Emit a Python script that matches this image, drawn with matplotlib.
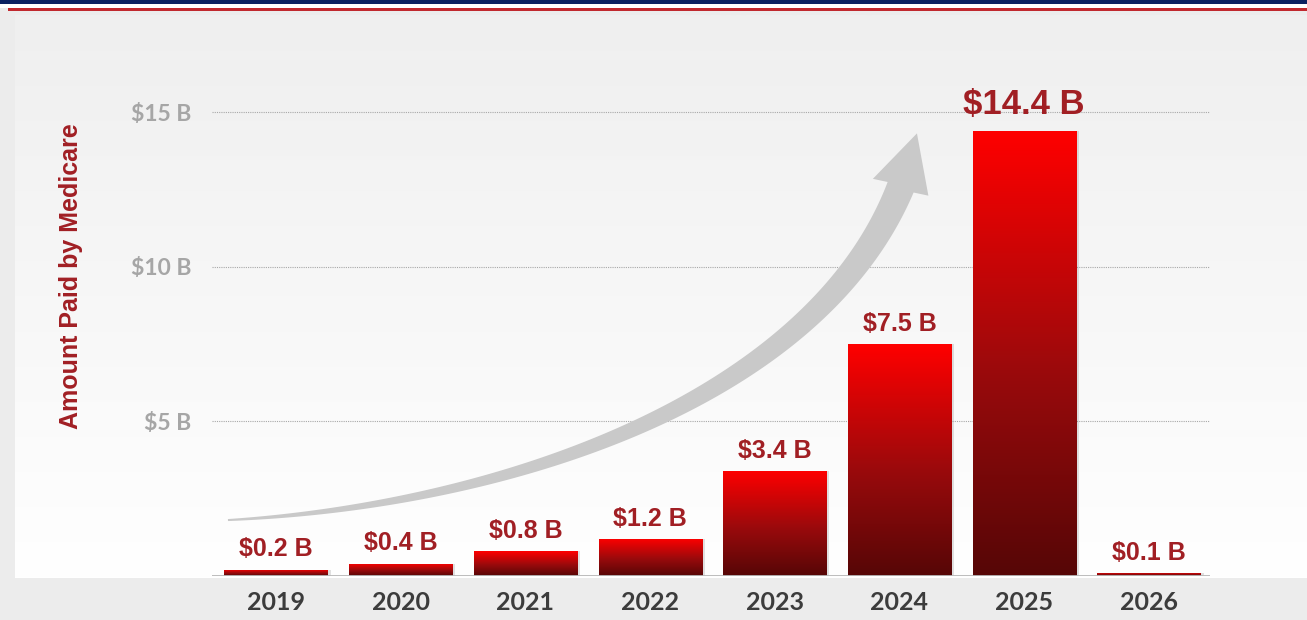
import numpy as np
import matplotlib
matplotlib.use("Agg")
import matplotlib.pyplot as plt
from matplotlib.colors import LinearSegmentedColormap
from matplotlib.patches import Rectangle, Polygon

# ---- data ----
years = ["2019", "2020", "2021", "2022", "2023", "2024", "2025", "2026"]
paid = [0.2, 0.4, 0.8, 1.2, 3.4, 7.5, 14.4, 0.1]  # billions of $
value_labels = ["$0.2 B", "$0.4 B", "$0.8 B", "$1.2 B", "$3.4 B", "$7.5 B", "$14.4 B", "$0.1 B"]
yticks = [5, 10, 15]
ytick_labels = ["$5 B", "$10 B", "$15 B"]

W, H = 1307, 620
RED_TXT = "#a11f24"

fig = plt.figure(figsize=(W / 100, H / 100), dpi=100)
fig.patch.set_facecolor("#ececec")

# panel background (light gray at top fading to white)
bg = fig.add_axes([15 / W, 42 / H, 1 - 15 / W, 563 / H], zorder=-5)
bg_cmap = LinearSegmentedColormap.from_list("bg", ["#efefef", "#ffffff"])
bg.imshow(np.linspace(0, 1, 256).reshape(-1, 1), cmap=bg_cmap, aspect="auto",
          extent=[0, 1, 0, 1], origin="upper")
bg.axis("off")

# top stripes
fig.add_artist(Rectangle((0, 1 - 4 / H), 1, 4 / H, transform=fig.transFigure,
                         color="#0b2161", lw=0))
fig.add_artist(Rectangle((0, 1 - 8 / H), 1, 4 / H, transform=fig.transFigure,
                         color="#ffffff", lw=0))
fig.add_artist(Rectangle((8 / W, 1 - 11 / H), 1, 3 / H, transform=fig.transFigure,
                         color="#c0282e", lw=0))

# ---- main axes ----
ax = fig.add_axes([212 / W, 44 / H, 998 / W, 510 / H])
ax.set_facecolor("none")
x = np.arange(len(years))
ax.set_xlim(-0.513, 7.49)
ax.set_ylim(0, 16.5)

bars = ax.bar(x, paid, width=0.826, color="none", zorder=3)
bar_cmap = LinearSegmentedColormap.from_list(
    "bar", [(0, "#560606"), (0.45, "#990a0c"), (1, "#ff0000")])
grad = np.linspace(0, 1, 256).reshape(-1, 1)
for b in bars:
    x0, w, h = b.get_x(), b.get_width(), b.get_height()
    # soft shadow
    ax.add_patch(Rectangle((x0 + 0.025, 0), w, h, color="#888888", alpha=0.25,
                           lw=0, zorder=2.8))
    im = ax.imshow(grad, cmap=bar_cmap, aspect="auto", origin="lower",
                   extent=[x0, x0 + w, 0, h], zorder=3)
    im.set_clip_path(b)

for xi, v, lab in zip(x, paid, value_labels):
    big = v == max(paid)
    ax.annotate(lab, (xi, v), xytext=(0, 7 if big else 6), textcoords="offset points",
                ha="center", va="bottom", fontsize=25 if big else 18,
                fontweight="bold", family="Liberation Sans", color=RED_TXT, zorder=5)

# growth arrow (decoration): cubic curve, tapered body + head built in pixel space
ax.figure.canvas.draw()
ctrl = ax.transData.transform([(-0.385, 1.81), (1.96, 2.3), (4.72, 6.17), (5.14, 14.32)])
t = np.linspace(0, 1, 500)[:, None]
curve = ((1 - t) ** 3 * ctrl[0] + 3 * t * (1 - t) ** 2 * ctrl[1]
         + 3 * t ** 2 * (1 - t) * ctrl[2] + t ** 3 * ctrl[3])
tip = ctrl[3]
seg = np.r_[0, np.cumsum(np.hypot(*np.diff(curve, axis=0).T))]
head_len, head_w = 55, 58
keep = seg <= seg[-1] - head_len
body = curve[keep]
tang = np.gradient(body, axis=0)
tang /= np.hypot(tang[:, 0], tang[:, 1])[:, None]
nrm = np.c_[-tang[:, 1], tang[:, 0]]
wid = np.linspace(2, 28, len(body))[:, None]
left = body + nrm * wid / 2
right = body - nrm * wid / 2
base = body[-1]
d = (tip - base) / np.hypot(*(tip - base))
nd = np.array([-d[1], d[0]])
poly_px = np.vstack([left, base + nd * head_w / 2, tip, base - nd * head_w / 2, right[::-1]])
poly = ax.transData.inverted().transform(poly_px)
ax.add_patch(Polygon(poly, closed=True, facecolor="#c9c9c9", edgecolor="none", zorder=2.5))

# grid / baseline
ax.set_yticks(yticks)
ax.set_yticklabels(ytick_labels)
ax.yaxis.grid(True, linestyle=(0, (1, 1)), color="#a8a8a8", lw=0.8)
ax.set_axisbelow(True)
ax.axhline(0, color="#b8b8b8", lw=1.3, zorder=4)
for s in ax.spines.values():
    s.set_visible(False)

ax.set_xticks(x)
ax.set_xticklabels(years)
ax.tick_params(axis="both", length=0)
ax.tick_params(axis="y", pad=15)
ax.tick_params(axis="x", pad=11)
for lbl in ax.get_yticklabels():
    lbl.set_fontfamily("Lato")
    lbl.set_fontweight("bold")
    lbl.set_fontsize(16.5)
    lbl.set_color("#a6a6a6")
for lbl in ax.get_xticklabels():
    lbl.set_fontfamily("Lato")
    lbl.set_fontweight("bold")
    lbl.set_fontsize(18)
    lbl.set_color("#3c3c3c")

fig.text(71 / W, 1 - 276 / H, "Amount Paid by Medicare", rotation=90,
         ha="center", va="center", fontsize=18, fontweight="bold",
         family="Liberation Sans", color=RED_TXT)

fig.savefig("out.png", dpi=100, facecolor=fig.get_facecolor())
